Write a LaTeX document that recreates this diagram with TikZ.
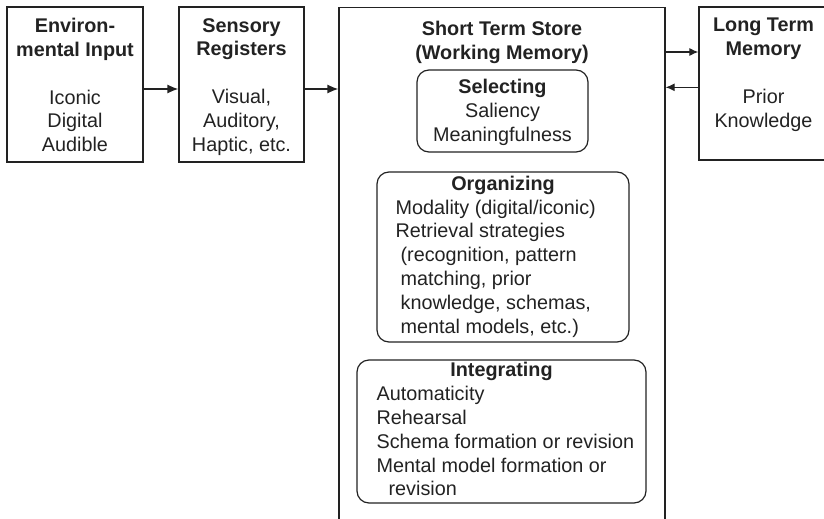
\documentclass[tikz,border=0pt]{standalone}
\usepackage{fontspec}
\setmainfont{Liberation Sans}
\usetikzlibrary{arrows.meta,positioning}
\definecolor{ink}{HTML}{222222}
\tikzset{
  stage/.style={draw=ink, line width=1.3pt, inner sep=0pt},
  phase/.style={draw=ink, line width=1.2pt, rounded corners=12pt, inner sep=0pt},
  txt/.style={inner sep=0pt, align=center, text=ink, font=\fontsize{19.8}{23.8}\selectfont},
  head/.style={txt, font=\fontsize{19.8}{23.8}\selectfont\bfseries},
  flow/.style={draw=ink, line width=1.3pt, -{Latex[length=11pt,width=9pt]}},
  recall/.style={draw=ink, line width=1.1pt, -{Latex[length=9pt,width=8pt]}}
}

\begin{document}
\begin{tikzpicture}[x=1pt, y=-1pt]
\useasboundingbox (0,0) rectangle (824,519);
\clip (0,0) rectangle (824,519);

% stores
\node[stage, minimum width=136pt, minimum height=155pt] (env) at (75,84.5) {};
\node[stage, minimum width=125pt, minimum height=155pt] (sens) at (241.5,84.5) {};
\node[stage, anchor=north, minimum width=326pt, minimum height=560pt] (sts) at (502,7) {};
\node[stage, minimum width=129pt, minimum height=153pt] (ltm) at (763.5,83.5) {};

\node[txt, below=11.8pt of env.north] (env-txt) {\textbf{Environ-}\\\textbf{mental Input}\\[23.8pt]Iconic\\Digital\\Audible};
\node[txt, below=11.8pt of sens.north] (sens-txt) {\textbf{Sensory}\\\textbf{Registers}\\[23.8pt]Visual,\\Auditory,\\Haptic, etc.};
\node[head, below=13.8pt of sts.north] (sts-txt) {Short Term Store\\(Working Memory)};
\node[txt, below=11.8pt of ltm.north] (ltm-txt) {\textbf{Long Term}\\\textbf{Memory}\\[23.8pt]Prior\\Knowledge};

% processes inside working memory
\node[phase, minimum width=171pt, minimum height=82pt] (sel) at (502.5,111) {};
\node[phase, minimum width=252pt, minimum height=170pt] (org) at (503,257) {};
\node[phase, minimum width=289pt, minimum height=143pt] (integ) at (501.5,431.5) {};

\node[txt, below=9.8pt of sel.north] (sel-txt) {\textbf{Selecting}\\Saliency\\Meaningfulness};
\node[head, below=4.1pt of org.north] (org-t) {Organizing};
\node[txt, align=left, below right=28.1pt and 19pt of org.north west] (org-b) {Modality (digital/iconic)\\Retrieval strategies\\\hspace*{5pt}(recognition, pattern\\\hspace*{5pt}matching, prior\\\hspace*{5pt}knowledge, schemas,\\\hspace*{5pt}mental models, etc.)};
\node[head, below=2.8pt of integ.north] (integ-t) {Integrating};
\node[txt, align=left, below right=26.8pt and 20pt of integ.north west] (integ-b) {Automaticity\\Rehearsal\\Schema formation or revision\\Mental model formation or\\\hspace*{12pt}revision};

% arrows
\draw[flow] ([yshift=-4.5pt]env.east) -- ([yshift=-4.5pt]sens.west);
\draw[flow] ([yshift=-4.5pt]sens.east) -- ([yshift=-4.5pt]sens.east -| sts.west);
\draw[recall] ([yshift=31.5pt]ltm.west -| sts.east) -- ([yshift=31.5pt]ltm.west);
\draw[recall] ([yshift=-3.8pt]ltm.west) -- ([yshift=-3.8pt]ltm.west -| sts.east);
\end{tikzpicture}
\end{document}
